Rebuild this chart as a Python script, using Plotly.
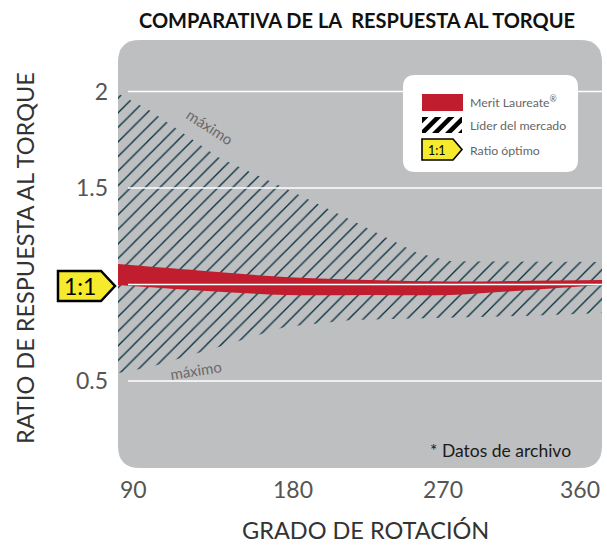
import plotly.graph_objects as go

# ---------------- data ----------------
leader_x = [90, 108, 146, 183, 220, 257, 276, 320, 360]
leader_upper = [1.99, 1.90, 1.66, 1.50, 1.334, 1.163, 1.12, 1.118, 1.117]
leader_lower = [0.541, 0.572, 0.676, 0.78, 0.816, 0.823, 0.826, 0.838, 0.852]

merit_x = [90, 135, 183, 230, 276, 320, 360]
merit_upper = [1.106, 1.073, 1.039, 1.023, 1.015, 1.02, 1.023]
merit_lower = [0.997, 0.969, 0.946, 0.946, 0.946, 0.972, 0.997]

x_ticks = [90, 180, 270, 360]
y_ticks = [0.5, 1.5, 2]
y_ticktext = ["0.5", "1.5", "2"]
grid_values = [0.5, 1.0, 1.5, 2.0]

# ---------------- layout helpers (pixel -> paper) ----------------
L, R, T, B = 118, 602, 40, 468
W, H = R - L, B - T


def fx(px):
    return (px - L) / W


def fy(py):
    return (B - py) / H


def path(points, close=True):
    s = "M " + " L ".join(f"{fx(a):.5f},{fy(b):.5f}" for a, b in points)
    return s + (" Z" if close else "")


def rounded_rect(x0, y0, x1, y1, r):
    return (f"M {fx(x0 + r):.5f},{fy(y0):.5f} L {fx(x1 - r):.5f},{fy(y0):.5f} "
            f"Q {fx(x1):.5f},{fy(y0):.5f} {fx(x1):.5f},{fy(y0 + r):.5f} "
            f"L {fx(x1):.5f},{fy(y1 - r):.5f} "
            f"Q {fx(x1):.5f},{fy(y1):.5f} {fx(x1 - r):.5f},{fy(y1):.5f} "
            f"L {fx(x0 + r):.5f},{fy(y1):.5f} "
            f"Q {fx(x0):.5f},{fy(y1):.5f} {fx(x0):.5f},{fy(y1 - r):.5f} "
            f"L {fx(x0):.5f},{fy(y0 + r):.5f} "
            f"Q {fx(x0):.5f},{fy(y0):.5f} {fx(x0 + r):.5f},{fy(y0):.5f} Z")


def clip_poly(poly, xmin, xmax):
    def clip(pts, keep, xc):
        out = []
        n = len(pts)
        for i in range(n):
            a, b = pts[i], pts[(i + 1) % n]
            ia, ib = keep(a), keep(b)
            if ia:
                out.append(a)
            if ia != ib:
                t = (xc - a[0]) / (b[0] - a[0])
                out.append((xc, a[1] + t * (b[1] - a[1])))
        return out
    p = clip(poly, lambda q: q[0] >= xmin, xmin)
    if p:
        p = clip(p, lambda q: q[0] <= xmax, xmax)
    return p


GRAY = "#bebfc1"
RED = "#c01e2e"
HATCH = "#06303f"
YELLOW = "#f6ea2c"
TXT = "#555555"
FONT = "Lato"

fig = go.Figure()

# market leader hatched band
fig.add_trace(go.Scatter(x=leader_x, y=leader_lower, mode="lines",
                         line=dict(width=0, color=HATCH), showlegend=False,
                         hoverinfo="skip"))
fig.add_trace(go.Scatter(x=leader_x, y=leader_upper, mode="lines",
                         line=dict(width=0, color=HATCH), fill="tonexty",
                         fillcolor="rgba(0,0,0,0)",
                         fillpattern=dict(shape="/", fgcolor=HATCH, fgopacity=1,
                                          fillmode="replace",
                                          bgcolor="rgba(0,0,0,0)",
                                          size=10.3, solidity=0.13),
                         name="Líder del mercado", showlegend=False))

# Merit Laureate red band
fig.add_trace(go.Scatter(x=merit_x, y=merit_lower, mode="lines",
                         line=dict(width=0, color=RED, shape="spline"),
                         showlegend=False, hoverinfo="skip"))
fig.add_trace(go.Scatter(x=merit_x, y=merit_upper, mode="lines",
                         line=dict(width=0, color=RED, shape="spline"),
                         fill="tonexty", fillcolor=RED,
                         name="Merit Laureate®", showlegend=False))

shapes = []
# gray rounded background
shapes.append(dict(type="path", xref="paper", yref="paper", layer="below",
                   path=rounded_rect(L, T, R, B, 22),
                   fillcolor=GRAY, line=dict(width=0)))
# grid lines
for v in grid_values:
    shapes.append(dict(type="line", xref="paper", yref="y", layer="above",
                       x0=fx(128), x1=1, y0=v, y1=v,
                       line=dict(color="white", width=1.6)))

# legend box
shapes.append(dict(type="path", xref="paper", yref="paper", layer="above",
                   path=rounded_rect(403, 75, 578, 172, 12),
                   fillcolor="white", line=dict(width=0)))
# red swatch
shapes.append(dict(type="rect", xref="paper", yref="paper", layer="above",
                   x0=fx(422), x1=fx(463), y0=fy(111), y1=fy(94),
                   fillcolor=RED, line=dict(width=0)))
# hatched swatch (black stripes)
sx0, sx1, sy0, sy1 = 422, 462, 117, 133
h = sy1 - sy0
sw = 6.5
start = sx0 - h
while start < sx1:
    poly = [(start, sy1), (start + sw, sy1), (start + sw + h, sy0), (start + h, sy0)]
    cp = clip_poly(poly, sx0, sx1)
    if len(cp) >= 3:
        shapes.append(dict(type="path", xref="paper", yref="paper", layer="above",
                           path=path(cp), fillcolor="black", line=dict(width=0)))
    start += 13

# legend 1:1 badge
shapes.append(dict(type="path", xref="paper", yref="paper", layer="above",
                   path=path([(422, 139), (453, 139), (462, 149.5), (453, 160), (422, 160)]),
                   fillcolor=YELLOW, line=dict(color="black", width=1.6)))
# axis 1:1 badge
shapes.append(dict(type="path", xref="paper", yref="paper", layer="above",
                   path=path([(58, 271), (101, 271), (115, 286), (101, 301), (58, 301)]),
                   fillcolor=YELLOW, line=dict(color="black", width=2.5)))

annotations = []


def ann(text, px, py, size, color=TXT, xanchor="center", yanchor="middle",
        angle=0, bold=False):
    annotations.append(dict(text=f"<b>{text}</b>" if bold else text,
                            xref="paper", yref="paper", x=fx(px), y=fy(py),
                            xanchor=xanchor, yanchor=yanchor, showarrow=False,
                            textangle=angle,
                            font=dict(family=FONT, size=size, color=color)))


ann("COMPARATIVA DE LA  RESPUESTA AL TORQUE", 357, 20, 20, color="#111111", bold=True)
ann("Merit Laureate<sup>®</sup>", 468, 102, 12.3, color="#666666", xanchor="left")
ann("Líder del mercado", 468, 126, 12.3, color="#666666", xanchor="left")
ann("Ratio óptimo", 468, 150, 12.3, color="#666666", xanchor="left")
ann("1:1", 437, 150, 12.5, color="black")
ann("1:1", 80, 286, 23, color="black")
ann("* Datos de archivo", 573, 450, 17.5, color="#1a1a1a", xanchor="right")
ann("GRADO DE ROTACIÓN", 365, 530, 23.5, color="#333333")
ann("RATIO DE RESPUESTA AL TORQUE", 25, 258, 23.5, color="#333333", angle=-90)

# "máximo" labels in data coordinates
annotations.append(dict(text="máximo", x=141.5, y=1.815, xref="x", yref="y",
                        showarrow=False, textangle=33,
                        font=dict(family=FONT, size=15, color="#6a6a6a")))
annotations.append(dict(text="máximo", x=133.5, y=0.557, xref="x", yref="y",
                        showarrow=False, textangle=-9,
                        font=dict(family=FONT, size=15, color="#6a6a6a")))

# x tick labels
x_anchor = {90: ("left", 0), 180: ("center", 14), 270: ("center", 2), 360: ("right", 0)}
for xv in x_ticks:
    xa, sh = x_anchor[xv]
    annotations.append(dict(text=str(xv), x=xv, y=fy(489), xref="x", yref="paper",
                            xanchor=xa, yanchor="middle", xshift=sh, showarrow=False,
                            font=dict(family=FONT, size=23, color=TXT)))

fig.update_layout(
    width=607, height=547,
    margin=dict(l=L, r=607 - R, t=T, b=547 - B),
    paper_bgcolor="white", plot_bgcolor="rgba(0,0,0,0)",
    shapes=shapes, annotations=annotations,
    xaxis=dict(range=[90, 360], showgrid=False, zeroline=False,
               showticklabels=False, showline=False, fixedrange=True),
    yaxis=dict(range=[0.049, 2.267], showgrid=False, zeroline=False,
               tickmode="array", tickvals=y_ticks, ticktext=y_ticktext,
               ticks="", ticklabelstandoff=9,
               tickfont=dict(family=FONT, size=23, color=TXT),
               showline=False, fixedrange=True),
    showlegend=False,
)

fig.write_html("out.html", config={"displayModeBar": False},
               post_script="document.body.style.margin='0';document.body.style.overflow='hidden';")
